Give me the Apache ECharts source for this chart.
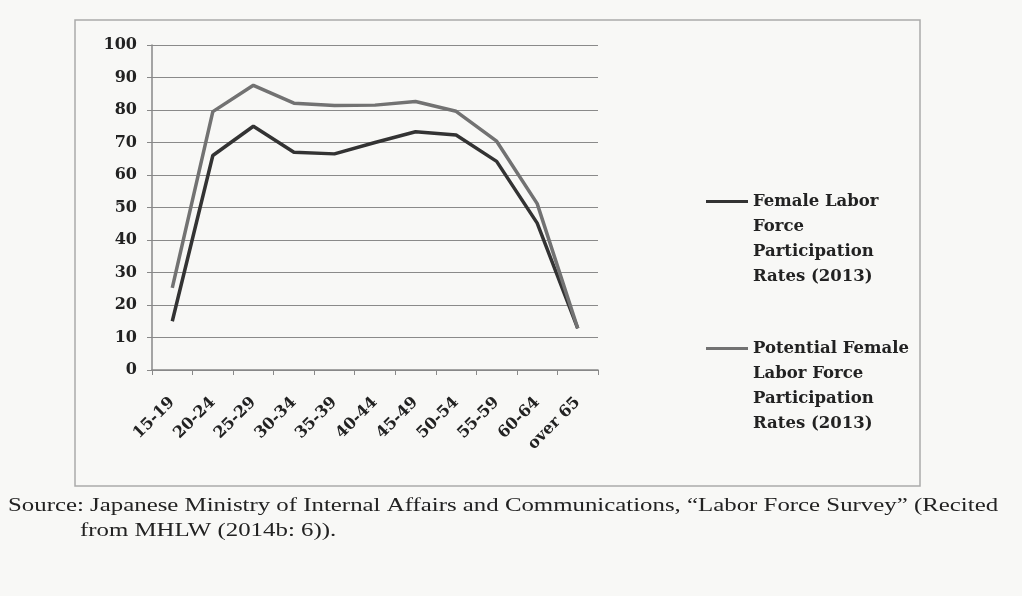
<!DOCTYPE html>
<html>
<head>
<meta charset="utf-8">
<script src="https://cdn.jsdelivr.net/npm/echarts@6/dist/echarts.min.js"></script>
<style>
  html, body { margin: 0; padding: 0; background: #f8f8f6; }
  #chart { width: 1022px; height: 596px; }
</style>
</head>
<body>
<div id="chart"></div>
<script>
const ageGroups = ["15-19", "20-24", "25-29", "30-34", "35-39", "40-44", "45-49", "50-54", "55-59", "60-64", "over 65"];
const femaleRates = [15, 66, 75, 67, 66.5, 70, 73.3, 72.3, 64.2, 45.2, 12.8];
const potentialRates = [25.3, 79.5, 87.6, 82.1, 81.4, 81.5, 82.6, 79.6, 70.4, 51.2, 12.8];
const yTicks = { min: 0, max: 100, interval: 10 };

const femaleName = "Female Labor Force Participation Rates (2013)";
const potentialName = "Potential Female Labor Force Participation Rates (2013)";
// leading blank lines push the wrapped text down so its first line sits beside the icon
const legendNames = {};
legendNames[femaleName] = "\n\n\nFemale Labor\nForce\nParticipation\nRates (2013)";
legendNames[potentialName] = "\n\n\nPotential Female\nLabor Force\nParticipation\nRates (2013)";

const labelFont = { fontFamily: "DejaVu Serif", fontWeight: "bold", color: "#222", fontSize: 16 };
const legendText = { fontFamily: "DejaVu Serif", fontWeight: "bold", fontSize: 16.5, color: "#222", lineHeight: 25 };

function legendFor(name, top) {
  return {
    orient: "vertical",
    left: 706,
    top: top,
    padding: 0,
    itemWidth: 42,
    itemHeight: 14,
    itemGap: 0,
    icon: "path://M0,6 L42,6 L42,9 L0,9 Z",
    formatter: (n) => legendNames[n],
    textStyle: legendText,
    data: [name]
  };
}

const chart = echarts.init(document.getElementById("chart"));
chart.setOption({
  backgroundColor: "#f8f8f6",
  animation: false,
  grid: { left: 152, right: 424, top: 45, bottom: 226 },
  legend: [legendFor(femaleName, 114), legendFor(potentialName, 261)],
  xAxis: {
    type: "category",
    data: ageGroups,
    boundaryGap: true,
    axisLine: { lineStyle: { color: "#888", width: 1.5 } },
    axisTick: { show: true, length: 5, lineStyle: { color: "#888" } },
    axisLabel: Object.assign({ rotate: 45, interval: 0, margin: 30 }, labelFont)
  },
  yAxis: {
    type: "value",
    min: yTicks.min,
    max: yTicks.max,
    interval: yTicks.interval,
    axisLine: { show: true, lineStyle: { color: "#888", width: 1.5 } },
    axisTick: { show: true, length: 5, lineStyle: { color: "#888" } },
    splitLine: { lineStyle: { color: "#8a8a8a", width: 1.2 } },
    axisLabel: Object.assign({ margin: 15 }, labelFont)
  },
  series: [
    {
      name: femaleName,
      type: "line",
      data: femaleRates,
      symbol: "none",
      lineStyle: { color: "#333", width: 3.5 },
      itemStyle: { color: "#333" }
    },
    {
      name: potentialName,
      type: "line",
      data: potentialRates,
      symbol: "none",
      lineStyle: { color: "#727272", width: 3.5 },
      itemStyle: { color: "#727272" }
    }
  ],
  graphic: [
    {
      type: "rect",
      shape: { x: 75, y: 20, width: 845, height: 466 },
      style: { fill: "none", stroke: "#aaa", lineWidth: 1.5 },
      silent: true
    },
    {
      type: "text",
      x: 8,
      y: 497,
      scaleX: 1.38,
      style: {
        text: "Source: Japanese Ministry of Internal Affairs and Communications, \u201cLabor Force Survey\u201d (Recited",
        fontFamily: "Liberation Serif",
        fontSize: 18,
        fill: "#222"
      }
    },
    {
      type: "text",
      x: 80,
      y: 522,
      scaleX: 1.38,
      style: {
        text: "from MHLW (2014b: 6)).",
        fontFamily: "Liberation Serif",
        fontSize: 18,
        fill: "#222"
      }
    }
  ]
});
</script>
</body>
</html>
